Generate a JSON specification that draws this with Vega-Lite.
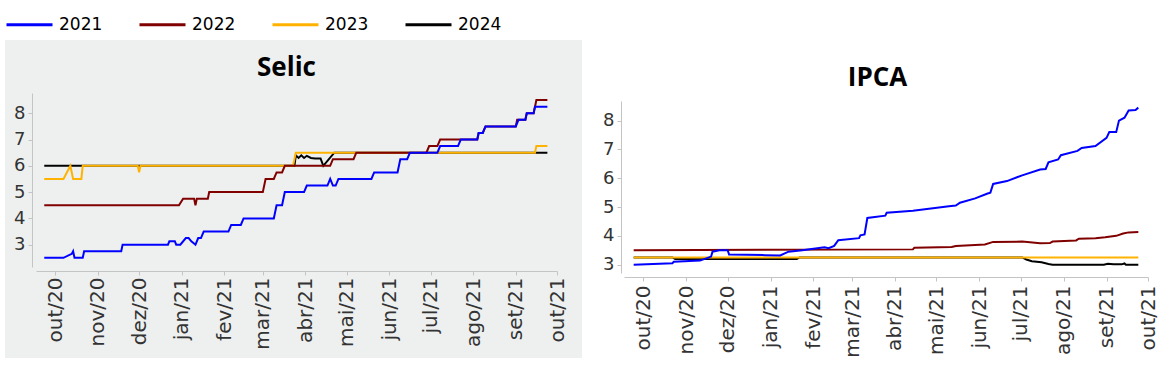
{
  "$schema": "https://vega.github.io/schema/vega-lite/v6.json",
  "padding": {"left": 5, "top": 0, "right": 0, "bottom": 0},
  "background": "white",
  "spacing": 13,
  "bounds": "flush",
  "config": {"view": {"stroke": null}},
  "datasets": {
    "selic": [
      {"year": "2024", "date": "2020-09-23", "value": 6.0},
      {"year": "2024", "date": "2021-03-24", "value": 6.0},
      {"year": "2024", "date": "2021-03-25", "value": 6.4},
      {"year": "2024", "date": "2021-03-27", "value": 6.3},
      {"year": "2024", "date": "2021-03-29", "value": 6.4},
      {"year": "2024", "date": "2021-03-31", "value": 6.3},
      {"year": "2024", "date": "2021-04-02", "value": 6.38},
      {"year": "2024", "date": "2021-04-05", "value": 6.3},
      {"year": "2024", "date": "2021-04-08", "value": 6.28},
      {"year": "2024", "date": "2021-04-12", "value": 6.28},
      {"year": "2024", "date": "2021-04-14", "value": 6.0},
      {"year": "2024", "date": "2021-04-22", "value": 6.5},
      {"year": "2024", "date": "2021-09-24", "value": 6.5},
      {"year": "2023", "date": "2020-09-23", "value": 5.5},
      {"year": "2023", "date": "2020-10-07", "value": 5.5},
      {"year": "2023", "date": "2020-10-12", "value": 6.0},
      {"year": "2023", "date": "2020-10-14", "value": 5.5},
      {"year": "2023", "date": "2020-10-20", "value": 5.5},
      {"year": "2023", "date": "2020-10-21", "value": 6.0},
      {"year": "2023", "date": "2020-11-30", "value": 6.0},
      {"year": "2023", "date": "2020-12-01", "value": 5.75},
      {"year": "2023", "date": "2020-12-02", "value": 6.0},
      {"year": "2023", "date": "2021-03-23", "value": 6.0},
      {"year": "2023", "date": "2021-03-25", "value": 6.5},
      {"year": "2023", "date": "2021-09-15", "value": 6.5},
      {"year": "2023", "date": "2021-09-16", "value": 6.75},
      {"year": "2023", "date": "2021-09-24", "value": 6.75},
      {"year": "2022", "date": "2020-09-23", "value": 4.5},
      {"year": "2022", "date": "2020-12-30", "value": 4.5},
      {"year": "2022", "date": "2021-01-02", "value": 4.75},
      {"year": "2022", "date": "2021-01-10", "value": 4.75},
      {"year": "2022", "date": "2021-01-11", "value": 4.5},
      {"year": "2022", "date": "2021-01-12", "value": 4.75},
      {"year": "2022", "date": "2021-01-20", "value": 4.75},
      {"year": "2022", "date": "2021-01-21", "value": 5.0},
      {"year": "2022", "date": "2021-03-01", "value": 5.0},
      {"year": "2022", "date": "2021-03-03", "value": 5.5},
      {"year": "2022", "date": "2021-03-09", "value": 5.5},
      {"year": "2022", "date": "2021-03-11", "value": 5.75},
      {"year": "2022", "date": "2021-03-15", "value": 5.75},
      {"year": "2022", "date": "2021-03-17", "value": 6.0},
      {"year": "2022", "date": "2021-04-19", "value": 6.0},
      {"year": "2022", "date": "2021-04-21", "value": 6.25},
      {"year": "2022", "date": "2021-05-06", "value": 6.25},
      {"year": "2022", "date": "2021-05-08", "value": 6.5},
      {"year": "2022", "date": "2021-06-28", "value": 6.5},
      {"year": "2022", "date": "2021-06-30", "value": 6.75},
      {"year": "2022", "date": "2021-07-06", "value": 6.75},
      {"year": "2022", "date": "2021-07-08", "value": 7.0},
      {"year": "2022", "date": "2021-08-04", "value": 7.0},
      {"year": "2022", "date": "2021-08-05", "value": 7.25},
      {"year": "2022", "date": "2021-08-08", "value": 7.25},
      {"year": "2022", "date": "2021-08-10", "value": 7.5},
      {"year": "2022", "date": "2021-09-01", "value": 7.5},
      {"year": "2022", "date": "2021-09-02", "value": 7.75},
      {"year": "2022", "date": "2021-09-08", "value": 7.75},
      {"year": "2022", "date": "2021-09-09", "value": 8.0},
      {"year": "2022", "date": "2021-09-14", "value": 8.0},
      {"year": "2022", "date": "2021-09-16", "value": 8.5},
      {"year": "2022", "date": "2021-09-24", "value": 8.5},
      {"year": "2021", "date": "2020-09-23", "value": 2.5},
      {"year": "2021", "date": "2020-10-07", "value": 2.5},
      {"year": "2021", "date": "2020-10-13", "value": 2.65},
      {"year": "2021", "date": "2020-10-14", "value": 2.75},
      {"year": "2021", "date": "2020-10-15", "value": 2.5},
      {"year": "2021", "date": "2020-10-21", "value": 2.5},
      {"year": "2021", "date": "2020-10-22", "value": 2.75},
      {"year": "2021", "date": "2020-11-18", "value": 2.75},
      {"year": "2021", "date": "2020-11-19", "value": 3.0},
      {"year": "2021", "date": "2020-12-22", "value": 3.0},
      {"year": "2021", "date": "2020-12-23", "value": 3.125},
      {"year": "2021", "date": "2020-12-27", "value": 3.125},
      {"year": "2021", "date": "2020-12-28", "value": 3.0},
      {"year": "2021", "date": "2020-12-31", "value": 3.0},
      {"year": "2021", "date": "2021-01-04", "value": 3.25},
      {"year": "2021", "date": "2021-01-06", "value": 3.25},
      {"year": "2021", "date": "2021-01-08", "value": 3.125},
      {"year": "2021", "date": "2021-01-11", "value": 3.0},
      {"year": "2021", "date": "2021-01-13", "value": 3.25},
      {"year": "2021", "date": "2021-01-15", "value": 3.25},
      {"year": "2021", "date": "2021-01-17", "value": 3.5},
      {"year": "2021", "date": "2021-02-04", "value": 3.5},
      {"year": "2021", "date": "2021-02-06", "value": 3.75},
      {"year": "2021", "date": "2021-02-13", "value": 3.75},
      {"year": "2021", "date": "2021-02-15", "value": 4.0},
      {"year": "2021", "date": "2021-03-09", "value": 4.0},
      {"year": "2021", "date": "2021-03-11", "value": 4.5},
      {"year": "2021", "date": "2021-03-15", "value": 4.5},
      {"year": "2021", "date": "2021-03-17", "value": 5.0},
      {"year": "2021", "date": "2021-03-31", "value": 5.0},
      {"year": "2021", "date": "2021-04-02", "value": 5.25},
      {"year": "2021", "date": "2021-04-17", "value": 5.25},
      {"year": "2021", "date": "2021-04-19", "value": 5.5},
      {"year": "2021", "date": "2021-04-21", "value": 5.25},
      {"year": "2021", "date": "2021-04-23", "value": 5.25},
      {"year": "2021", "date": "2021-04-25", "value": 5.5},
      {"year": "2021", "date": "2021-05-19", "value": 5.5},
      {"year": "2021", "date": "2021-05-21", "value": 5.75},
      {"year": "2021", "date": "2021-06-07", "value": 5.75},
      {"year": "2021", "date": "2021-06-09", "value": 6.25},
      {"year": "2021", "date": "2021-06-14", "value": 6.25},
      {"year": "2021", "date": "2021-06-16", "value": 6.5},
      {"year": "2021", "date": "2021-07-06", "value": 6.5},
      {"year": "2021", "date": "2021-07-08", "value": 6.75},
      {"year": "2021", "date": "2021-07-21", "value": 6.75},
      {"year": "2021", "date": "2021-07-23", "value": 7.0},
      {"year": "2021", "date": "2021-08-04", "value": 7.0},
      {"year": "2021", "date": "2021-08-05", "value": 7.25},
      {"year": "2021", "date": "2021-08-08", "value": 7.25},
      {"year": "2021", "date": "2021-08-10", "value": 7.5},
      {"year": "2021", "date": "2021-09-01", "value": 7.5},
      {"year": "2021", "date": "2021-09-03", "value": 7.75},
      {"year": "2021", "date": "2021-09-08", "value": 7.75},
      {"year": "2021", "date": "2021-09-09", "value": 8.0},
      {"year": "2021", "date": "2021-09-14", "value": 8.0},
      {"year": "2021", "date": "2021-09-15", "value": 8.25},
      {"year": "2021", "date": "2021-09-24", "value": 8.25}
    ],
    "ipca": [
      {"year": "2024", "date": "2020-09-24", "value": 3.25},
      {"year": "2024", "date": "2020-10-22", "value": 3.25},
      {"year": "2024", "date": "2020-10-24", "value": 3.2},
      {"year": "2024", "date": "2021-01-20", "value": 3.2},
      {"year": "2024", "date": "2021-01-22", "value": 3.25},
      {"year": "2024", "date": "2021-07-02", "value": 3.25},
      {"year": "2024", "date": "2021-07-05", "value": 3.18},
      {"year": "2024", "date": "2021-07-09", "value": 3.12},
      {"year": "2024", "date": "2021-07-16", "value": 3.08},
      {"year": "2024", "date": "2021-07-21", "value": 3.02},
      {"year": "2024", "date": "2021-07-24", "value": 3.0},
      {"year": "2024", "date": "2021-08-30", "value": 3.0},
      {"year": "2024", "date": "2021-09-02", "value": 3.03},
      {"year": "2024", "date": "2021-09-06", "value": 3.01},
      {"year": "2024", "date": "2021-09-12", "value": 3.01},
      {"year": "2024", "date": "2021-09-14", "value": 3.04},
      {"year": "2024", "date": "2021-09-15", "value": 3.0},
      {"year": "2024", "date": "2021-09-24", "value": 3.0},
      {"year": "2023", "date": "2020-09-24", "value": 3.25},
      {"year": "2023", "date": "2021-09-24", "value": 3.25},
      {"year": "2022", "date": "2020-09-24", "value": 3.5},
      {"year": "2022", "date": "2021-04-14", "value": 3.53},
      {"year": "2022", "date": "2021-04-15", "value": 3.59},
      {"year": "2022", "date": "2021-05-12", "value": 3.61},
      {"year": "2022", "date": "2021-05-15", "value": 3.65},
      {"year": "2022", "date": "2021-06-05", "value": 3.7},
      {"year": "2022", "date": "2021-06-11", "value": 3.79},
      {"year": "2022", "date": "2021-07-02", "value": 3.8},
      {"year": "2022", "date": "2021-07-15", "value": 3.74},
      {"year": "2022", "date": "2021-07-22", "value": 3.75},
      {"year": "2022", "date": "2021-07-24", "value": 3.8},
      {"year": "2022", "date": "2021-08-10", "value": 3.84},
      {"year": "2022", "date": "2021-08-12", "value": 3.9},
      {"year": "2022", "date": "2021-08-24", "value": 3.92},
      {"year": "2022", "date": "2021-08-31", "value": 3.95},
      {"year": "2022", "date": "2021-09-08", "value": 4.0},
      {"year": "2022", "date": "2021-09-13", "value": 4.08},
      {"year": "2022", "date": "2021-09-17", "value": 4.12},
      {"year": "2022", "date": "2021-09-24", "value": 4.13},
      {"year": "2021", "date": "2020-09-24", "value": 3.0},
      {"year": "2021", "date": "2020-10-22", "value": 3.05},
      {"year": "2021", "date": "2020-10-23", "value": 3.1},
      {"year": "2021", "date": "2020-11-11", "value": 3.14},
      {"year": "2021", "date": "2020-11-19", "value": 3.28},
      {"year": "2021", "date": "2020-11-20", "value": 3.45},
      {"year": "2021", "date": "2020-11-25", "value": 3.5},
      {"year": "2021", "date": "2020-12-01", "value": 3.5},
      {"year": "2021", "date": "2020-12-02", "value": 3.35},
      {"year": "2021", "date": "2020-12-28", "value": 3.33},
      {"year": "2021", "date": "2021-01-08", "value": 3.32},
      {"year": "2021", "date": "2021-01-14", "value": 3.45},
      {"year": "2021", "date": "2021-01-24", "value": 3.5},
      {"year": "2021", "date": "2021-02-09", "value": 3.6},
      {"year": "2021", "date": "2021-02-12", "value": 3.57},
      {"year": "2021", "date": "2021-02-16", "value": 3.65},
      {"year": "2021", "date": "2021-02-19", "value": 3.85},
      {"year": "2021", "date": "2021-03-06", "value": 3.92},
      {"year": "2021", "date": "2021-03-07", "value": 4.02},
      {"year": "2021", "date": "2021-03-10", "value": 4.05},
      {"year": "2021", "date": "2021-03-12", "value": 4.62},
      {"year": "2021", "date": "2021-03-25", "value": 4.7},
      {"year": "2021", "date": "2021-03-26", "value": 4.8},
      {"year": "2021", "date": "2021-04-14", "value": 4.87},
      {"year": "2021", "date": "2021-05-10", "value": 5.03},
      {"year": "2021", "date": "2021-05-15", "value": 5.05},
      {"year": "2021", "date": "2021-05-18", "value": 5.15},
      {"year": "2021", "date": "2021-05-29", "value": 5.3},
      {"year": "2021", "date": "2021-06-07", "value": 5.47},
      {"year": "2021", "date": "2021-06-09", "value": 5.5},
      {"year": "2021", "date": "2021-06-11", "value": 5.8},
      {"year": "2021", "date": "2021-06-21", "value": 5.9},
      {"year": "2021", "date": "2021-07-02", "value": 6.1},
      {"year": "2021", "date": "2021-07-15", "value": 6.3},
      {"year": "2021", "date": "2021-07-19", "value": 6.32},
      {"year": "2021", "date": "2021-07-21", "value": 6.55},
      {"year": "2021", "date": "2021-07-28", "value": 6.65},
      {"year": "2021", "date": "2021-07-30", "value": 6.8},
      {"year": "2021", "date": "2021-08-11", "value": 6.95},
      {"year": "2021", "date": "2021-08-14", "value": 7.05},
      {"year": "2021", "date": "2021-08-24", "value": 7.12},
      {"year": "2021", "date": "2021-09-01", "value": 7.4},
      {"year": "2021", "date": "2021-09-03", "value": 7.6},
      {"year": "2021", "date": "2021-09-08", "value": 7.6},
      {"year": "2021", "date": "2021-09-10", "value": 8.0},
      {"year": "2021", "date": "2021-09-14", "value": 8.1},
      {"year": "2021", "date": "2021-09-17", "value": 8.35},
      {"year": "2021", "date": "2021-09-22", "value": 8.37},
      {"year": "2021", "date": "2021-09-24", "value": 8.45}
    ]
  },
  "hconcat": [
    {
      "width": 577,
      "height": 318,
      "view": {"fill": "#eef0f0", "stroke": null},
      "title": {"text": "Selic", "font": "Open Sans", "fontSize": 26, "fontWeight": "bold", "color": "#000000", "anchor": "middle", "frame": "group", "baseline": "alphabetic", "offset": -62, "dx": -7},
      "data": {"name": "selic"},
      "mark": {"type": "line", "strokeWidth": 2, "clip": true},
      "encoding": {
        "x": {
          "field": "date", "type": "temporal",
          "scale": {"type": "utc", "domain": [{"year": 2020, "month": 9, "date": 17, "utc": true}, {"year": 2021, "month": 10, "date": 1, "utc": true}], "range": [31, 552]},
          "axis": {"title": null, "offset": -87, "tickCount": {"interval": "month", "step": 1}, "labelExpr": "['jan','fev','mar','abr','mai','jun','jul','ago','set','out','nov','dez'][utcmonth(datum.value)] + '/' + utcFormat(datum.value, '%y')", "labelAngle": 270, "labelAlign": "right", "labelBaseline": "middle", "labelPadding": 2, "tickSize": 4, "domainColor": "#c4c4c4", "tickColor": "#c4c4c4", "labelFont": "DejaVu Sans", "labelFontSize": 20, "labelColor": "#333333", "grid": false, "labelOverlap": false, "labelFlush": false}
        },
        "y": {
          "field": "value", "type": "quantitative",
          "scale": {"domain": [2.15, 8.77], "range": [227, 53]},
          "axis": {"title": null, "offset": -27, "values": [3, 4, 5, 6, 7, 8], "labelPadding": 3, "tickSize": 4, "domainColor": "#c4c4c4", "tickColor": "#c4c4c4", "labelFont": "DejaVu Sans", "labelFontSize": 18, "labelColor": "#333333", "grid": false}
        },
        "color": {
          "field": "year", "type": "nominal",
          "scale": {"domain": ["2021", "2022", "2023", "2024"], "range": ["#0000ff", "#800000", "#ffb300", "#000000"]},
          "legend": {"orient": "none", "legendX": 0, "legendY": -40, "direction": "horizontal", "title": null, "symbolType": "stroke", "symbolSize": 2116, "symbolStrokeWidth": 3, "labelFont": "DejaVu Sans", "labelFontSize": 17, "labelColor": "#000000", "labelOffset": 5, "columnPadding": 30}
        }
      }
    },
    {
      "width": 565,
      "height": 318,
      "view": {"fill": "white", "stroke": null},
      "title": {"text": "IPCA", "font": "Open Sans", "fontSize": 26, "fontWeight": "bold", "color": "#000000", "anchor": "middle", "frame": "group", "baseline": "alphabetic", "offset": -72, "dx": 0},
      "data": {"name": "ipca"},
      "mark": {"type": "line", "strokeWidth": 2, "clip": true},
      "encoding": {
        "x": {
          "field": "date", "type": "temporal",
          "scale": {"type": "utc", "domain": [{"year": 2020, "month": 9, "date": 17, "utc": true}, {"year": 2021, "month": 10, "date": 1, "utc": true}], "range": [29, 553]},
          "axis": {"title": null, "offset": -81, "tickCount": {"interval": "month", "step": 1}, "labelExpr": "['jan','fev','mar','abr','mai','jun','jul','ago','set','out','nov','dez'][utcmonth(datum.value)] + '/' + utcFormat(datum.value, '%y')", "labelAngle": 270, "labelAlign": "right", "labelBaseline": "middle", "labelPadding": 4, "tickSize": 4, "domainColor": "#c4c4c4", "tickColor": "#c4c4c4", "labelFont": "DejaVu Sans", "labelFontSize": 20, "labelColor": "#333333", "grid": false, "labelOverlap": false, "labelFlush": false}
        },
        "y": {
          "field": "value", "type": "quantitative",
          "scale": {"domain": [2.71, 8.68], "range": [233, 61]},
          "axis": {"title": null, "offset": -26, "values": [3, 4, 5, 6, 7, 8], "labelPadding": 3, "tickSize": 4, "domainColor": "#c4c4c4", "tickColor": "#c4c4c4", "labelFont": "DejaVu Sans", "labelFontSize": 18, "labelColor": "#333333", "grid": false}
        },
        "color": {"field": "year", "type": "nominal"}
      }
    }
  ]
}
